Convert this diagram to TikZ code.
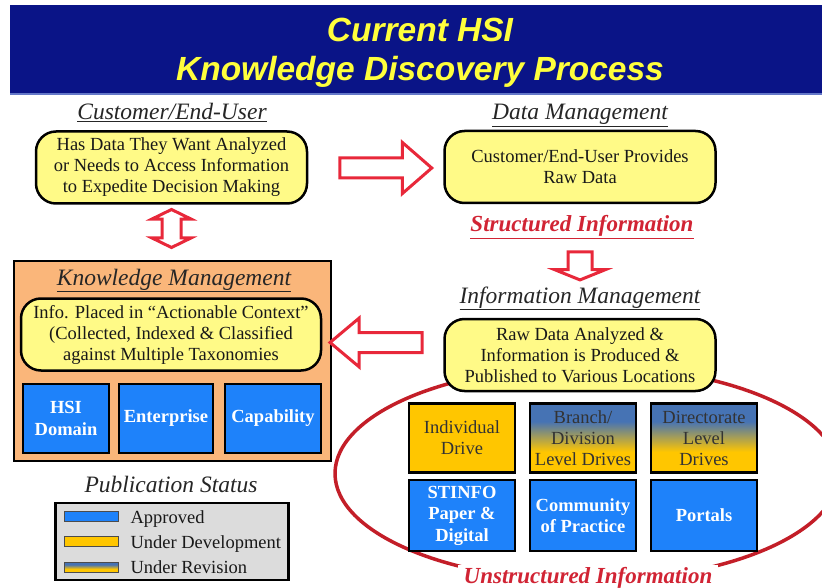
\documentclass[tikz,border=0pt]{standalone}
\usepackage{fontspec}
\setmainfont{Liberation Serif}
\newfontfamily\headfont{Liberation Sans}
\usetikzlibrary{positioning}
\usetikzlibrary{calc}
\usetikzlibrary{shapes.arrows}
\definecolor{headblue}{RGB}{10,20,135}
\definecolor{headline}{RGB}{100,120,200}
\definecolor{headyellow}{RGB}{255,255,60}
\definecolor{boxyellow}{RGB}{255,250,135}
\definecolor{kmorange}{RGB}{250,182,122}
\definecolor{approved}{RGB}{30,130,250}
\definecolor{devgold}{RGB}{255,198,0}
\definecolor{revblue}{RGB}{70,115,180}
\definecolor{arrowred}{RGB}{232,40,58}
\definecolor{ringred}{RGB}{195,30,40}
\definecolor{legendgray}{RGB}{220,220,220}
\pgfdeclareverticalshading{revision}{100bp}{color(0bp)=(devgold); color(25bp)=(devgold); color(40bp)=(devgold); color(62bp)=(revblue); color(75bp)=(revblue); color(100bp)=(revblue)}

\begin{document}
\begin{tikzpicture}[x=1pt,y=-1pt,
  every node/.style={font=\fontsize{18.5}{21}\selectfont, text=black!90},
  headtext/.style={font=\headfont\fontsize{33.5}{36}\selectfont\bfseries\itshape, text=headyellow, anchor=base},
  sectitle/.style={font=\fontsize{23.5}{26}\selectfont\itshape, text=black!85, anchor=base},
  redtitle/.style={font=\fontsize{23}{26}\selectfont\bfseries\itshape, text=arrowred!90!black, anchor=base},
  yellowbox/.style={draw=black, line width=2.5, fill=boxyellow, rounded corners=20, align=center, minimum width=271, minimum height=72},
  tile/.style={draw=black, line width=2.5, minimum height=69, align=center, inner sep=0},
  approvedtile/.style={tile, fill=approved, text=white, font=\fontsize{18.5}{21.5}\selectfont\bfseries},
  devtile/.style={tile, fill=devgold, text=black!80},
  revtile/.style={tile, shade, shading=revision, text=black!80},
  swatch/.style={draw=black!70, line width=0.8, minimum width=54, minimum height=10, inner sep=0},
  legendtext/.style={anchor=base west},
  blockarrow/.style={single arrow, draw=arrowred, line width=3, fill=white, inner xsep=0}
]
\useasboundingbox (0,0) rectangle (822,588);
\fill[headblue] (10,5) rectangle (830,93);
\draw[headline, line width=1.5] (10,94) -- (830,94);
\node[headtext] (head1) at (420,42) {Current HSI};
\node[headtext] (head2) at (420,81) {Knowledge Discovery Process};

\draw[ringred, line width=3.5] (587,473.5) ellipse [x radius=252, y radius=107.5];

\node[sectitle] (custtitle) at (172,120) {\underline{Customer/End-User}};
\node[yellowbox] (cust) at (171.5,167.5) {Has Data They Want Analyzed\\or Needs to Access Information\\to Expedite Decision Making};
\node[sectitle] (datatitle) at (580,120) {\underline{Data Management}};
\node[yellowbox] (data) at (580,167) {Customer/End-User Provides\\Raw Data};
\node[redtitle] (struct) at (582,232) {\underline{Structured Information}};
\node[sectitle] (infotitle) at (580,303) {\underline{Information Management}};
\node[yellowbox] (info) at (580,355) {Raw Data Analyzed \&\\Information is Produced \&\\Published to Various Locations};

\node[draw=black, line width=2.5, fill=kmorange, minimum width=317, minimum height=200, inner sep=0] (kmbox) at (172.5,361) {};
\node[sectitle] (kmtitle) at (174,285) {\underline{Knowledge Management}};
\node[yellowbox, minimum width=300] (kmtext) at (171,334.5) {Info. Placed in ``Actionable Context''\\(Collected, Indexed \& Classified\\against Multiple Taxonomies};
\node[approvedtile, minimum width=86] (hsi) at (66,418.5) {HSI\\Domain};
\node[approvedtile, minimum width=94] (enterprise) at (166,418.5) {Enterprise};
\node[approvedtile, minimum width=96] (capability) at (273,418.5) {Capability};

\node[devtile, minimum width=106] (individual) at (462,438) {Individual\\Drive};
\node[revtile, minimum width=106] (branch) at (583,438) {Branch/\\Division\\Level Drives};
\node[revtile, minimum width=106] (directorate) at (704,438) {Directorate\\Level\\Drives};
\node[approvedtile, minimum width=106, minimum height=71] (stinfo) at (462,515.5) {STINFO\\Paper \&\\Digital};
\node[approvedtile, minimum width=106, minimum height=71] (community) at (583,515.5) {Community\\of Practice};
\node[approvedtile, minimum width=106, minimum height=71] (portals) at (704,515.5) {Portals};
\node[redtitle, fill=white, inner xsep=6, inner ysep=2] (unstruct) at (588,583) {\underline{Unstructured Information}};

\node[blockarrow, inner ysep=8.5, single arrow head extend=15.5, single arrow tip angle=82, minimum height=92] (todata) at (380,168) {};
\node[blockarrow, inner ysep=10.5, single arrow head extend=13.5, single arrow tip angle=136, minimum height=28, rotate=-90] (toinfo) at (580,263.5) {};
\node[blockarrow, inner ysep=8.5, single arrow head extend=14.5, single arrow tip angle=80, minimum height=92, rotate=180] (toknow) at (382,342.5) {};
\node[double arrow, draw=arrowred, line width=3, fill=white, inner xsep=0, inner ysep=8, double arrow head extend=10, double arrow tip angle=128, minimum height=38, rotate=90] (custknow) at (171.5,228.5) {};

\node[sectitle] (pubtitle) at (171,492) {Publication Status};
\node[draw=black, line width=2.5, fill=legendgray, minimum width=233, minimum height=77, inner sep=0] (legend) at (172,541.5) {};
\node[swatch, fill=approved] (swapproved) at (91.5,516.5) {};
\node[swatch, fill=devgold] (swdev) at (91.5,541.5) {};
\node[swatch, shade, shading=revision] (swrev) at (91.5,567) {};
\node[legendtext] (lblapproved) at (127,523) {Approved};
\node[legendtext] (lbldev) at (127,548) {Under Development};
\node[legendtext] (lblrev) at (127,573) {Under Revision};
\end{tikzpicture}
\end{document}
